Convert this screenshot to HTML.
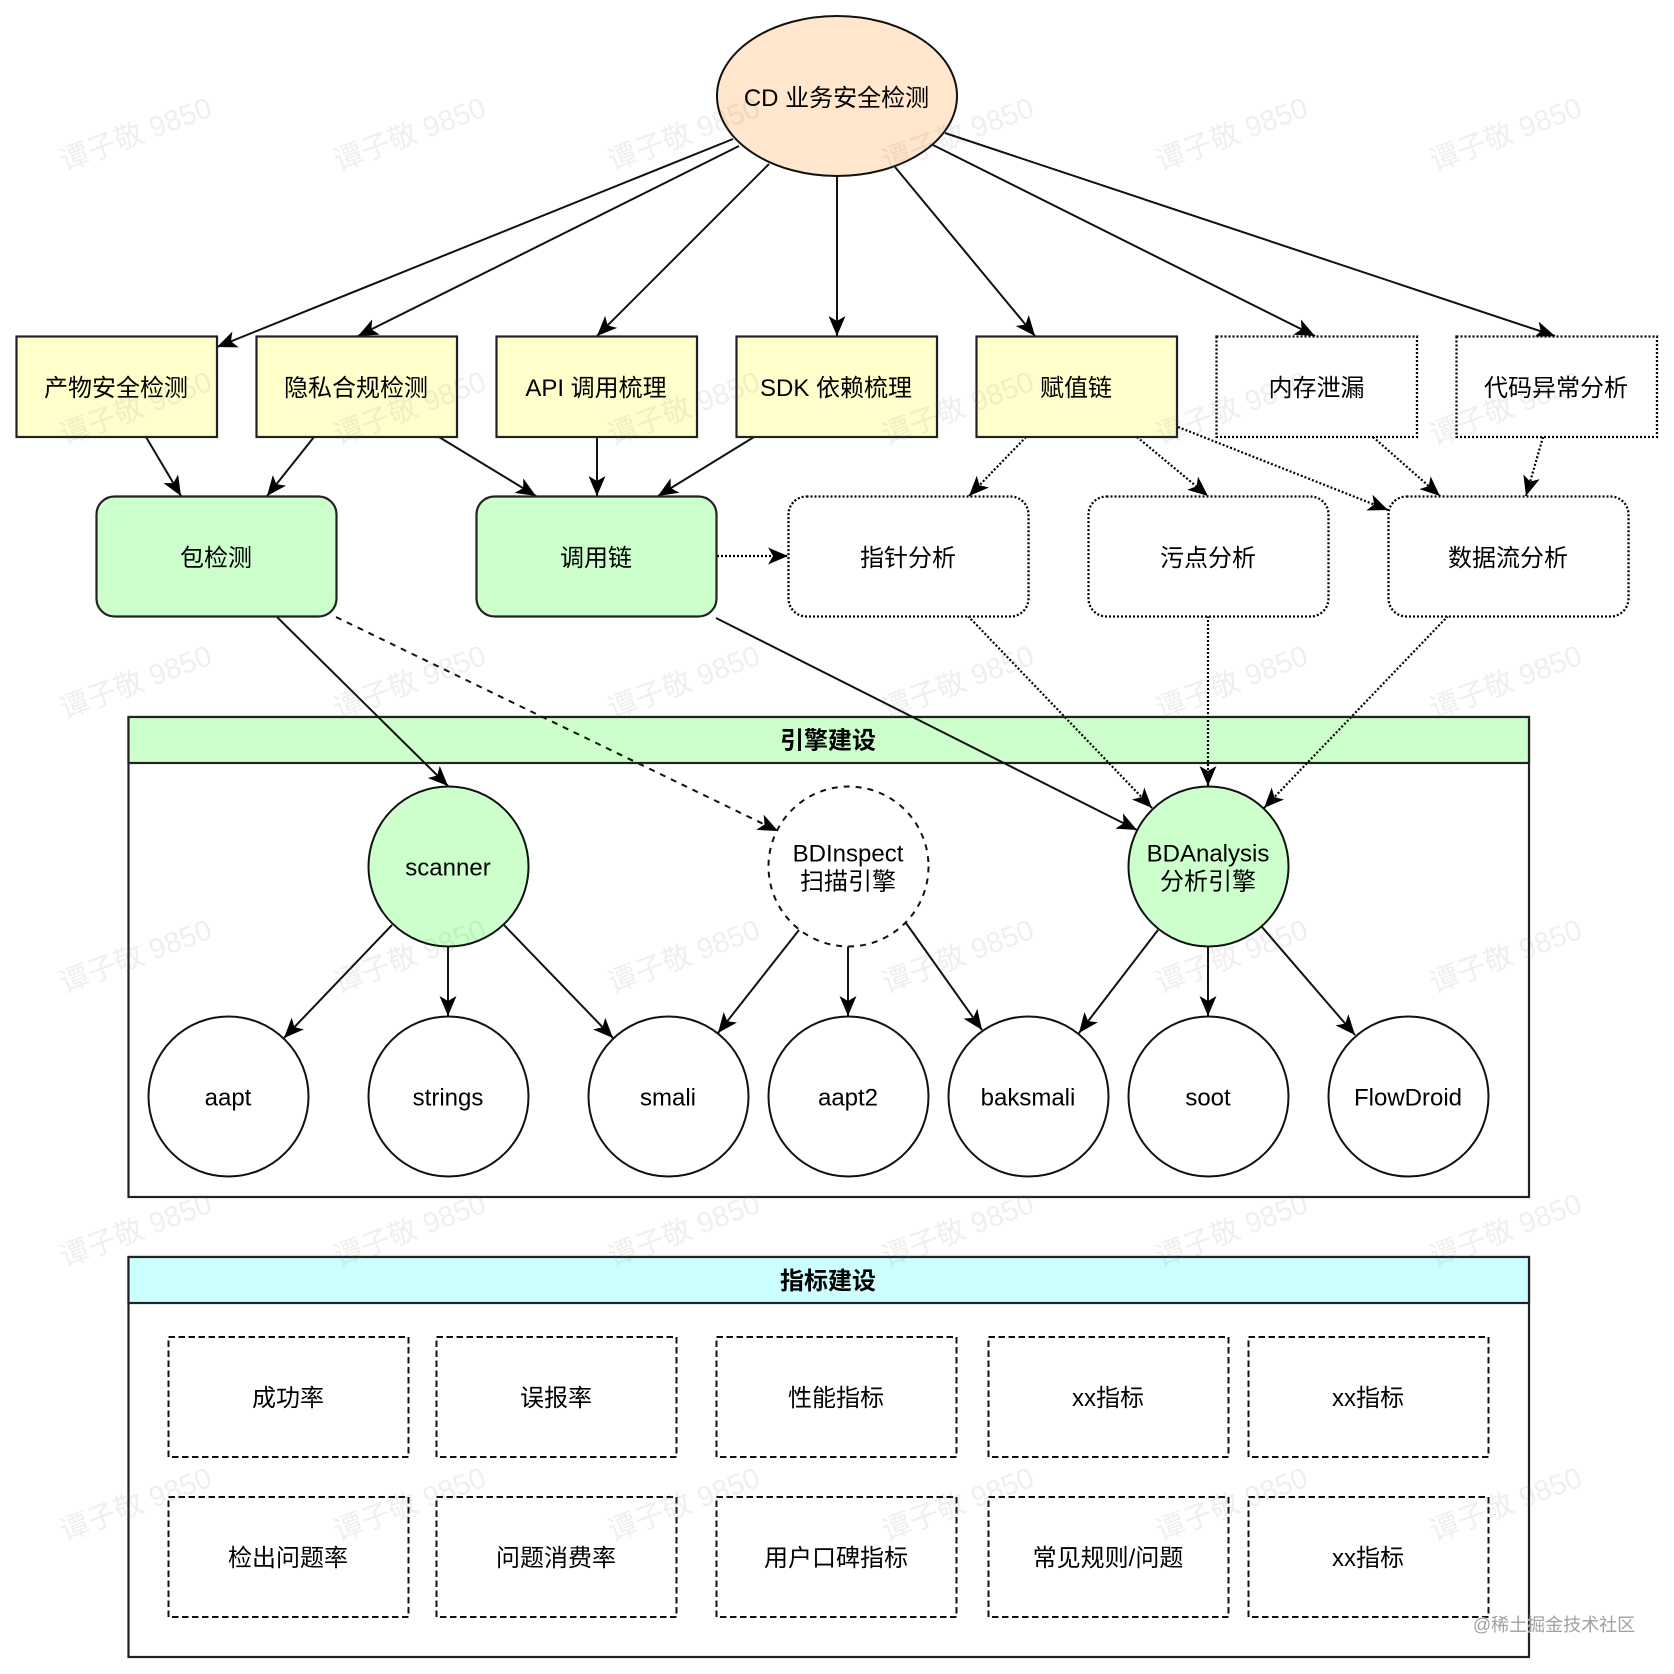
<!DOCTYPE html>
<html lang="zh">
<head>
<meta charset="utf-8">
<title>CD 业务安全检测</title>
<style>
html,body{margin:0;padding:0;background:#fff;width:1674px;height:1674px;overflow:hidden}
svg{display:block}
text{font-family:"Liberation Sans","Noto Sans CJK SC",sans-serif;font-size:24px;fill:#000;text-anchor:middle;dominant-baseline:central}
.b{font-weight:bold}
.box{stroke:#222;stroke-width:2.2}
.dot{stroke:#000;stroke-width:2.3;stroke-dasharray:2 2;fill:#fff}
.dash{stroke:#111;stroke-width:2;stroke-dasharray:6.5 3.5;fill:none}
.l{stroke:#111;stroke-width:2;fill:none;marker-end:url(#a)}
.ld{stroke:#000;stroke-width:2.2;stroke-dasharray:2 2;fill:none;marker-end:url(#a)}
.lh{stroke:#111;stroke-width:2;stroke-dasharray:6 6;fill:none;marker-end:url(#a)}
.wm text{font-size:29px;fill:rgba(110,110,110,.11)}
</style>
</head>
<body>
<svg width="1674" height="1674" viewBox="0 0 1674 1674" xmlns="http://www.w3.org/2000/svg">
<defs>
<marker id="a" markerUnits="userSpaceOnUse" markerWidth="22" markerHeight="20" viewBox="0 0 22 20" refX="20" refY="10" orient="auto">
<path d="M0 1.500 L20 10 L0 18.500 L5 10 Z" fill="#000"/>
</marker>
</defs>

<!-- swimlanes -->
<rect x="128.500" y="717" width="1400.500" height="480" fill="#fff" class="box"/>
<rect x="128.500" y="717" width="1400.500" height="46" fill="#ccffcc" class="box"/>
<text class="b" x="828" y="741">引擎建设</text>

<rect x="128.500" y="1257" width="1400.500" height="400" fill="#fff" class="box"/>
<rect x="128.500" y="1257" width="1400.500" height="46" fill="#ccffff" class="box"/>
<text class="b" x="828" y="1281.500">指标建设</text>

<!-- metric boxes -->
<rect class="dash" x="168.500" y="1337" width="240" height="120"/>
<rect class="dash" x="436.500" y="1337" width="240" height="120"/>
<rect class="dash" x="716.500" y="1337" width="240" height="120"/>
<rect class="dash" x="988.500" y="1337" width="240" height="120"/>
<rect class="dash" x="1248.500" y="1337" width="240" height="120"/>
<rect class="dash" x="168.500" y="1497" width="240" height="120"/>
<rect class="dash" x="436.500" y="1497" width="240" height="120"/>
<rect class="dash" x="716.500" y="1497" width="240" height="120"/>
<rect class="dash" x="988.500" y="1497" width="240" height="120"/>
<rect class="dash" x="1248.500" y="1497" width="240" height="120"/>
<text x="288" y="1398.500">成功率</text>
<text x="556" y="1398.500">误报率</text>
<text x="836" y="1398.500">性能指标</text>
<text x="1108" y="1398.500">xx指标</text>
<text x="1368" y="1398.500">xx指标</text>
<text x="288" y="1558.500">检出问题率</text>
<text x="556" y="1558.500">问题消费率</text>
<text x="836" y="1558.500">用户口碑指标</text>
<text x="1108" y="1558.500">常见规则/问题</text>
<text x="1368" y="1558.500">xx指标</text>

<!-- connectors -->
<line class="l" x1="733" y1="139" x2="217" y2="347"/>
<line class="l" x1="739" y1="146" x2="358" y2="336"/>
<line class="l" x1="769" y1="164" x2="597" y2="336"/>
<line class="l" x1="837" y1="176" x2="837" y2="336"/>
<line class="l" x1="895" y1="167" x2="1035" y2="336"/>
<line class="l" x1="933" y1="145" x2="1315" y2="336"/>
<line class="l" x1="945" y1="133" x2="1555" y2="336"/>

<line class="l" x1="146" y1="437" x2="181" y2="496"/>
<line class="l" x1="314" y1="437" x2="267" y2="496"/>
<line class="l" x1="439" y1="437" x2="536" y2="496"/>
<line class="l" x1="597" y1="437" x2="597" y2="496"/>
<line class="l" x1="754" y1="437" x2="658" y2="496"/>
<line class="ld" x1="1026" y1="437" x2="969" y2="496"/>
<line class="ld" x1="1137" y1="437" x2="1208" y2="496"/>
<line class="ld" x1="1178" y1="427" x2="1388" y2="510"/>
<line class="ld" x1="1373" y1="437" x2="1440" y2="496"/>
<line class="ld" x1="1543" y1="437" x2="1526" y2="496"/>
<line class="ld" x1="717" y1="556" x2="788" y2="556"/>

<line class="l" x1="277" y1="617" x2="448" y2="786"/>
<line class="lh" x1="336" y1="617" x2="778" y2="831"/>
<line class="l" x1="716" y1="618" x2="1137" y2="830"/>
<line class="ld" x1="968" y1="616" x2="1152" y2="808"/>
<line class="ld" x1="1208" y1="616" x2="1208" y2="786"/>
<line class="ld" x1="1448" y1="616" x2="1264" y2="808"/>

<line class="l" x1="392" y1="925" x2="284" y2="1038"/>
<line class="l" x1="448" y1="946" x2="448" y2="1016"/>
<line class="l" x1="504" y1="925" x2="613" y2="1038"/>
<line class="l" x1="799" y1="930" x2="718" y2="1033"/>
<line class="l" x1="848" y1="946" x2="848" y2="1016"/>
<line class="l" x1="906" y1="923" x2="982" y2="1030"/>
<line class="l" x1="1158" y1="930" x2="1079" y2="1033"/>
<line class="l" x1="1208" y1="946" x2="1208" y2="1016"/>
<line class="l" x1="1262" y1="927" x2="1355" y2="1035"/>

<!-- root -->
<ellipse cx="837" cy="96" rx="120" ry="80" fill="#ffe6cc" stroke="#111" stroke-width="2"/>
<text x="836.500" y="98.500">CD 业务安全检测</text>

<!-- row 1 -->
<rect x="16.500" y="336.500" width="200.500" height="100.500" fill="#ffffcc" class="box"/>
<rect x="256.500" y="336.500" width="200.500" height="100.500" fill="#ffffcc" class="box"/>
<rect x="496.500" y="336.500" width="200.500" height="100.500" fill="#ffffcc" class="box"/>
<rect x="736.500" y="336.500" width="200.500" height="100.500" fill="#ffffcc" class="box"/>
<rect x="976.500" y="336.500" width="200.500" height="100.500" fill="#ffffcc" class="box"/>
<rect x="1216.500" y="336.500" width="200.500" height="100.500" class="dot"/>
<rect x="1456.500" y="336.500" width="200.500" height="100.500" class="dot"/>
<text x="116" y="388.500">产物安全检测</text>
<text x="356" y="388.500">隐私合规检测</text>
<text x="596" y="388.500">API 调用梳理</text>
<text x="836" y="388.500">SDK 依赖梳理</text>
<text x="1076" y="388.500">赋值链</text>
<text x="1316.500" y="388.500">内存泄漏</text>
<text x="1556" y="388.500">代码异常分析</text>

<!-- row 2 -->
<rect x="96.500" y="496.500" width="240" height="120" rx="18" fill="#ccffcc" class="box"/>
<rect x="476.500" y="496.500" width="240" height="120" rx="18" fill="#ccffcc" class="box"/>
<rect x="788.500" y="496.500" width="240" height="120" rx="18" class="dot"/>
<rect x="1088.500" y="496.500" width="240" height="120" rx="18" class="dot"/>
<rect x="1388.500" y="496.500" width="240" height="120" rx="18" class="dot"/>
<text x="216" y="558.500">包检测</text>
<text x="596" y="558.500">调用链</text>
<text x="908" y="558.500">指针分析</text>
<text x="1208" y="558.500">污点分析</text>
<text x="1508" y="558.500">数据流分析</text>

<!-- engine circles -->
<circle cx="448.500" cy="866.500" r="80" fill="#ccffcc" stroke="#111" stroke-width="2"/>
<circle cx="848.500" cy="866.500" r="80" fill="#fff" stroke="#111" stroke-width="2" stroke-dasharray="6 6"/>
<circle cx="1208.500" cy="866.500" r="80" fill="#ccffcc" stroke="#111" stroke-width="2"/>
<circle cx="228.500" cy="1096.500" r="80" fill="#fff" stroke="#111" stroke-width="2"/>
<circle cx="448.500" cy="1096.500" r="80" fill="#fff" stroke="#111" stroke-width="2"/>
<circle cx="668.500" cy="1096.500" r="80" fill="#fff" stroke="#111" stroke-width="2"/>
<circle cx="848.500" cy="1096.500" r="80" fill="#fff" stroke="#111" stroke-width="2"/>
<circle cx="1028.500" cy="1096.500" r="80" fill="#fff" stroke="#111" stroke-width="2"/>
<circle cx="1208.500" cy="1096.500" r="80" fill="#fff" stroke="#111" stroke-width="2"/>
<circle cx="1408.500" cy="1096.500" r="80" fill="#fff" stroke="#111" stroke-width="2"/>
<text x="448" y="868">scanner</text>
<text x="848" y="854">BDInspect</text>
<text x="848" y="882">扫描引擎</text>
<text x="1208" y="854">BDAnalysis</text>
<text x="1208" y="882">分析引擎</text>
<text x="228" y="1098">aapt</text>
<text x="448" y="1098">strings</text>
<text x="668" y="1098">smali</text>
<text x="848" y="1098">aapt2</text>
<text x="1028" y="1098">baksmali</text>
<text x="1208" y="1098">soot</text>
<text x="1408" y="1098">FlowDroid</text>

<!-- watermarks -->
<g class="wm">
<text transform="translate(136,135) rotate(-20.500)">谭子敬 9850</text>
<text transform="translate(410,135) rotate(-20.500)">谭子敬 9850</text>
<text transform="translate(684,135) rotate(-20.500)">谭子敬 9850</text>
<text transform="translate(958,135) rotate(-20.500)">谭子敬 9850</text>
<text transform="translate(1232,135) rotate(-20.500)">谭子敬 9850</text>
<text transform="translate(1506,135) rotate(-20.500)">谭子敬 9850</text>
<text transform="translate(136,409) rotate(-20.500)">谭子敬 9850</text>
<text transform="translate(410,409) rotate(-20.500)">谭子敬 9850</text>
<text transform="translate(684,409) rotate(-20.500)">谭子敬 9850</text>
<text transform="translate(958,409) rotate(-20.500)">谭子敬 9850</text>
<text transform="translate(1232,409) rotate(-20.500)">谭子敬 9850</text>
<text transform="translate(1506,409) rotate(-20.500)">谭子敬 9850</text>
<text transform="translate(136,683) rotate(-20.500)">谭子敬 9850</text>
<text transform="translate(410,683) rotate(-20.500)">谭子敬 9850</text>
<text transform="translate(684,683) rotate(-20.500)">谭子敬 9850</text>
<text transform="translate(958,683) rotate(-20.500)">谭子敬 9850</text>
<text transform="translate(1232,683) rotate(-20.500)">谭子敬 9850</text>
<text transform="translate(1506,683) rotate(-20.500)">谭子敬 9850</text>
<text transform="translate(136,957) rotate(-20.500)">谭子敬 9850</text>
<text transform="translate(410,957) rotate(-20.500)">谭子敬 9850</text>
<text transform="translate(684,957) rotate(-20.500)">谭子敬 9850</text>
<text transform="translate(958,957) rotate(-20.500)">谭子敬 9850</text>
<text transform="translate(1232,957) rotate(-20.500)">谭子敬 9850</text>
<text transform="translate(1506,957) rotate(-20.500)">谭子敬 9850</text>
<text transform="translate(136,1231) rotate(-20.500)">谭子敬 9850</text>
<text transform="translate(410,1231) rotate(-20.500)">谭子敬 9850</text>
<text transform="translate(684,1231) rotate(-20.500)">谭子敬 9850</text>
<text transform="translate(958,1231) rotate(-20.500)">谭子敬 9850</text>
<text transform="translate(1232,1231) rotate(-20.500)">谭子敬 9850</text>
<text transform="translate(1506,1231) rotate(-20.500)">谭子敬 9850</text>
<text transform="translate(136,1505) rotate(-20.500)">谭子敬 9850</text>
<text transform="translate(410,1505) rotate(-20.500)">谭子敬 9850</text>
<text transform="translate(684,1505) rotate(-20.500)">谭子敬 9850</text>
<text transform="translate(958,1505) rotate(-20.500)">谭子敬 9850</text>
<text transform="translate(1232,1505) rotate(-20.500)">谭子敬 9850</text>
<text transform="translate(1506,1505) rotate(-20.500)">谭子敬 9850</text>
</g>

<text x="1554" y="1625" style="font-size:18px;fill:#a0a0a0;paint-order:stroke;stroke:rgba(255,255,255,.6);stroke-width:1">@稀土掘金技术社区</text>
</svg>
</body>
</html>
